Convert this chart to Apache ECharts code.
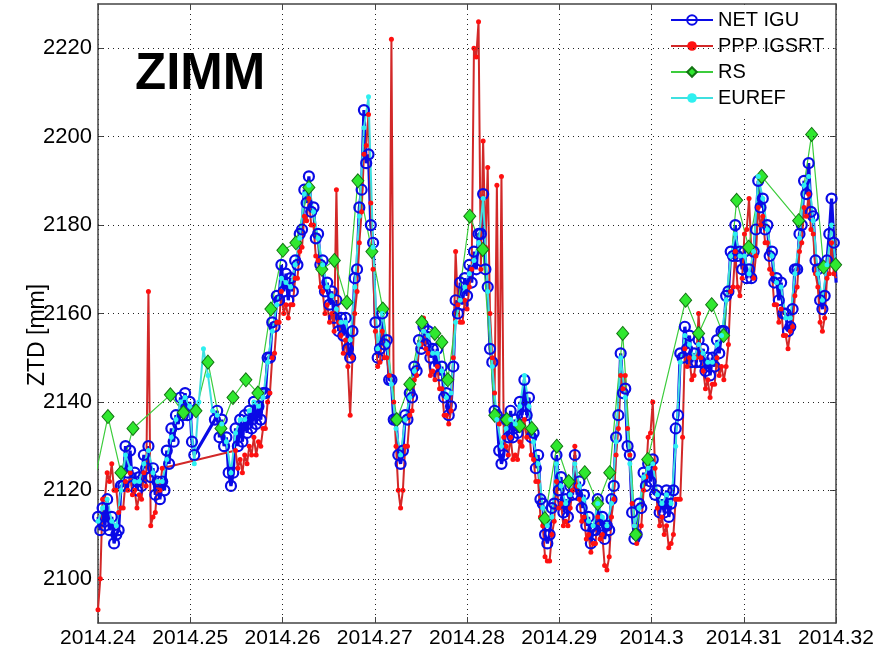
<!DOCTYPE html>
<html>
<head>
<meta charset="utf-8">
<title>ZIMM ZTD</title>
<script src="https://cdn.jsdelivr.net/npm/echarts@6/dist/echarts.min.js"></script>
<style>
  html, body { margin: 0; padding: 0; background: #fff; }
  #chart { width: 877px; height: 658px; }
</style>
</head>
<body>
<div id="chart"></div>
<script>
// sampling of the traces: NET IGU and PPP IGSRT every STEP/2, EUREF every STEP
const T0 = 2014.24
const STEP = 0.000497

// NET IGU (blue circles), half-step samples
const netIgu = [
  2114, 2111, 2116, 2112, 2118, 2111, 2114, 2108, 2110, 2111,
  2121, 2121, 2130, 2124, 2129, 2121, 2124, 2120, 2123, 2121,
  2128, 2125, 2130, 2123, 2125, 2119, 2122, 2118, 2122, 2120,
  2129, 2126, 2134, 2131, 2137, 2135, 2141, 2137, 2142, 2137,
  2140, 2131, 2128, null, null, null, null, null, null, null,
  null, 2136, 2138, 2132, 2136, 2130, 2132, 2124, 2121, 2124,
  2134, 2130, 2136, 2131, 2137, 2133, 2138, 2134, 2140, 2135,
  2139, 2136, 2142, 2142, 2150, 2150, 2158, 2157, 2164, 2163,
  2171, 2165, 2169, 2163, 2168, 2165, 2172, 2171, 2178, 2179,
  2188, 2185, 2191, 2183, 2184, 2177, 2178, 2171, 2172, 2165,
  2167, 2162, 2165, 2159, 2163, 2156, 2159, 2155, 2159, 2152,
  2150, 2156, 2168, 2170, 2184, 2188, 2206, 2194, 2196, 2180,
  2176, 2158, 2150, 2152, 2160, 2153, 2154, 2145, 2145, 2136,
  2136, 2128, 2126, 2129, 2137, 2136, 2142, 2141, 2148, 2147,
  2154, 2152, 2157, 2153, 2156, 2150, 2152, 2148, 2152, 2146,
  2148, 2141, 2142, 2137, 2139, 2148, 2163, 2160, 2167, 2162,
  2168, 2164, 2171, 2167, 2174, 2170, 2178, 2178, 2187, 2170,
  2166, 2152, 2149, 2138, 2137, 2129, 2126, 2128, 2136, 2132,
  2138, 2132, 2136, 2133, 2140, 2137, 2145, 2137, 2141, 2132,
  2133, 2125, 2128, 2118, 2117, 2110, 2108, 2110, 2116, 2117,
  2128, 2120, 2123, 2115, 2118, 2114, 2121, 2119, 2128, 2119,
  2122, 2116, 2119, 2112, 2114, 2108, 2111, 2111, 2118, 2112,
  2114, 2109, 2112, 2111, 2118, 2121, 2132, 2137, 2151, 2142,
  2143, 2130, 2128, 2115, 2109, 2110, 2117, 2116, 2124, 2121,
  2126, 2122, 2127, 2119, 2120, 2115, 2118, 2115, 2120, 2114,
  2117, 2120, 2134, 2137, 2151, 2150, 2157, 2152, 2155, 2149,
  2151, 2149, 2154, 2149, 2152, 2147, 2150, 2146, 2150, 2148,
  2154, 2151, 2156, 2156, 2164, 2165, 2174, 2173, 2180, 2173,
  2174, 2170, 2174, 2168, 2170, 2168, 2174, 2179, 2190, 2184,
  2186, 2179, 2180, 2173, 2174, 2167, 2168, 2163, 2167, 2160,
  2160, 2156, 2157, 2161, 2170, 2170, 2178, 2180, 2190, 2187,
  2194, 2183, 2182, 2172, 2170, 2163, 2161, 2164, 2172, 2178,
  2186, 2176, 2167
]

// PPP IGSRT (red dots), half-step samples
const pppIgsrt = [
  2093, 2100, 2118, 2118, 2124, 2122, 2126, 2120, 2120, 2115,
  2116, 2116, 2122, 2120, 2124, 2119, 2120, 2116, 2119, 2118,
  2124, 2121, 2165, 2112, 2114, 2115, 2122, 2120, 2125, null,
  null, null, null, null, null, null, null, null, null, null,
  null, null, null, null, null, null, null, null, null, null,
  null, null, null, null, null, null, null, null, null, null,
  2129, 2125, 2127, 2124, 2128, 2126, 2130, 2128, 2132, 2128,
  2131, 2130, 2134, 2134, 2140, 2142, 2150, 2151, 2158, 2158,
  2165, 2160, 2162, 2159, 2162, 2162, 2168, 2168, 2174, 2175,
  2182, 2181, 2186, 2180, 2180, 2173, 2172, 2166, 2165, 2160,
  2162, 2158, 2160, 2156, 2188, 2158, 2155, 2151, 2154, 2148,
  2137, 2150, 2160, 2165, 2176, 2183, 2196, 2198, 2205, 2185,
  2170, 2156, 2148, 2149, 2156, 2150, 2150, 2146, 2222, 2140,
  2130, 2120, 2116, 2120, 2130, 2130, 2137, 2138, 2145, 2146,
  2153, 2153, 2159, 2152, 2151, 2146, 2147, 2145, 2148, 2143,
  2143, 2137, 2137, 2135, 2138, 2150, 2174, 2162, 2158, 2158,
  2163, 2161, 2166, 2170, 2220, 2218, 2226, 2170, 2199, 2175,
  2193, 2160, 2150, 2142, 2189, 2135, 2191, 2132, 2130, 2128,
  2132, 2127, 2128, 2127, 2131, 2130, 2136, 2132, 2134, 2128,
  2127, 2122, 2122, 2114, 2112, 2105, 2104, 2104, 2110, 2113,
  2122, 2116, 2117, 2112, 2113, 2112, 2116, 2120, 2130, 2121,
  2118, 2113, 2114, 2109, 2110, 2106, 2108, 2108, 2114, 2109,
  2110, 2103, 2102, 2105, 2114, 2118, 2128, 2134, 2146, 2143,
  2146, 2134, 2128, 2117, 2112, 2108, 2110, 2112, 2120, 2123,
  2132, 2133, 2140, 2125, 2116, 2112, 2114, 2110, 2112, 2107,
  2108, 2110, 2118, 2118, 2118, 2132, 2152, 2148, 2150, 2145,
  2146, 2150, 2160, 2150, 2147, 2143, 2145, 2141, 2144, 2144,
  2150, 2146, 2148, 2145, 2148, 2153, 2165, 2166, 2174, 2166,
  2164, 2168, 2178, 2179, 2186, 2174, 2168, 2173, 2184, 2180,
  2182, 2176, 2176, 2170, 2169, 2162, 2162, 2158, 2161, 2155,
  2155, 2152, 2156, 2157, 2164, 2166, 2174, 2176, 2184, 2182,
  2187, 2179, 2178, 2169, 2166, 2158, 2156, 2159, 2168, 2169,
  2176, 2169, 2168
]

// EUREF (cyan dots)
const euref = [
  2113, 2116, 2118, 2113, 2112, 2120, 2128, 2125, 2122, 2122,
  2126, 2129, 2124, 2122, 2122, 2127, 2132, 2136, 2140, 2141,
  2139, 2126, 2140, 2152, 2146, 2138, 2137, 2135, 2131, 2124,
  2133, 2136, 2136, 2138, 2140, 2139, 2141, 2149, 2156, 2162,
  2168, 2167, 2166, 2171, 2177, 2187, 2189, 2183, 2177, 2171,
  2166, 2164, 2161, 2158, 2158, 2154, 2166, 2182, 2202, 2209,
  2175, 2152, 2160, 2153, 2144, 2134, 2128, 2136, 2141, 2147,
  2153, 2156, 2155, 2151, 2151, 2147, 2141, 2142, 2158, 2163,
  2166, 2169, 2172, 2176, 2186, 2165, 2148, 2136, 2130, 2134,
  2136, 2135, 2139, 2146, 2139, 2131, 2126, 2116, 2112, 2114,
  2126, 2121, 2117, 2119, 2126, 2121, 2118, 2113, 2112, 2117,
  2114, 2112, 2117, 2131, 2150, 2141, 2126, 2112, 2116, 2123,
  2125, 2126, 2119, 2117, 2119, 2117, 2130, 2149, 2155, 2153,
  2150, 2153, 2151, 2149, 2149, 2153, 2155, 2163, 2173, 2178,
  2173, 2173, 2169, 2174, 2191, 2186, 2179, 2173, 2167, 2166,
  2159, 2159, 2169, 2177, 2189, 2191, 2181, 2169, 2163, 2171,
  2180, 2170
]

// RS (green diamonds), twice a day
const rsTime = [
  2014.23980, 2014.24108, 2014.24249, 2014.24379, 2014.24785, 2014.24926,
  2014.25062, 2014.25192, 2014.25333, 2014.25463, 2014.25603, 2014.25733,
  2014.25874, 2014.26004, 2014.26145, 2014.26286, 2014.26427, 2014.26562,
  2014.26698, 2014.26817, 2014.26969, 2014.27088, 2014.27239, 2014.27380,
  2014.27510, 2014.27651, 2014.27727, 2014.27792, 2014.28030, 2014.28171,
  2014.28301, 2014.28431, 2014.28572, 2014.28702, 2014.28843, 2014.28973,
  2014.29103, 2014.29276, 2014.29417, 2014.29547, 2014.29688, 2014.29829,
  2014.29959, 2014.30370, 2014.30511, 2014.30652, 2014.30782, 2014.30923,
  2014.31053, 2014.31194, 2014.31595, 2014.31736, 2014.31866, 2014.31996
]
const rsValue = [
  2124, 2136.7, 2124, 2134, 2141.6, 2137.6,
  2138, 2149, 2134, 2141, 2145, 2142,
  2161, 2174.3, 2176, 2188.5, 2170, 2172,
  2162.5, 2190, 2174, 2161, 2136, 2144,
  2158, 2155.5, 2153.5, 2145, 2182, 2174.5,
  2137, 2136, 2134.6, 2134, 2113.6, 2130,
  2122, 2124, 2117, 2124, 2155.5, 2110,
  2127, 2163, 2155.5, 2162, 2155, 2185.6,
  2175, 2191, 2181, 2200.5, 2170.5, 2171
]

const xTicks = [2014.24, 2014.25, 2014.26, 2014.27, 2014.28, 2014.29, 2014.3, 2014.31, 2014.32]
const yTicks = [2100, 2120, 2140, 2160, 2180, 2200, 2220]

const FONT = 'Liberation Sans, Arial, sans-serif'

const chart = echarts.init(document.getElementById('chart'))

const stepped = (arr, dt) => arr.map((v, k) => [T0 + k * dt, v])

const dotted = { color: '#222', width: 1, type: [1, 4] }
const axisLine = { show: true, lineStyle: { color: '#444', width: 1.5 } }
const tickIn = { show: true, inside: true, length: 6, lineStyle: { color: '#444' } }

chart.setOption({
  animation: false,
  backgroundColor: '#fff',
  grid: { left: 98, right: 41, top: 4, bottom: 35 },
  legend: {
    orient: 'vertical',
    left: 660,
    top: 5,
    padding: [5, 10, 10, 10],
    backgroundColor: '#fff',
    itemWidth: 42,
    itemHeight: 12,
    itemGap: 6,
    data: ['NET IGU', 'PPP IGSRT', 'RS', 'EUREF'],
    textStyle: { fontSize: 20, color: '#000', fontFamily: FONT }
  },
  xAxis: [
    {
      type: 'value',
      min: xTicks[0],
      max: xTicks[xTicks.length - 1],
      interval: 0.01,
      axisLine: axisLine,
      axisTick: tickIn,
      splitLine: { show: true, lineStyle: dotted },
      axisLabel: {
        color: '#000',
        fontSize: 21,
        fontFamily: FONT,
        margin: 5,
        showMinLabel: true,
        showMaxLabel: true,
        formatter: (v) => String(+v.toFixed(2))
      }
    },
    {
      type: 'value',
      position: 'top',
      min: xTicks[0],
      max: xTicks[xTicks.length - 1],
      interval: 0.01,
      axisLine: axisLine,
      axisTick: tickIn,
      splitLine: { show: false },
      axisLabel: { show: false }
    }
  ],
  yAxis: [
    {
      type: 'value',
      min: 2090,
      max: 2230,
      interval: 10,
      axisLine: axisLine,
      axisTick: Object.assign({ customValues: yTicks }, tickIn),
      splitLine: { show: false },
      axisLabel: {
        customValues: yTicks,
        color: '#000',
        fontSize: 22,
        fontFamily: FONT,
        margin: 6,
        formatter: (v) => (v % 20 === 0 ? String(v) : '')
      }
    },
    {
      type: 'value',
      position: 'right',
      min: 2090,
      max: 2230,
      interval: 10,
      axisLine: axisLine,
      axisTick: Object.assign({ customValues: yTicks }, tickIn),
      splitLine: { show: false },
      axisLabel: { show: false }
    }
  ],
  graphic: [
    {
      type: 'text',
      left: 135,
      top: 49,
      style: { text: 'ZIMM', fill: '#000', font: 'bold 51px ' + FONT }
    },
    {
      type: 'text',
      x: 38,
      y: 335,
      rotation: Math.PI / 2,
      style: {
        text: 'ZTD [mm]',
        fill: '#000',
        font: '23px ' + FONT,
        align: 'center',
        verticalAlign: 'middle'
      }
    }
  ],
  series: [
    {
      // horizontal dotted grid lines
      name: 'grid',
      type: 'line',
      data: [],
      silent: true,
      markLine: {
        silent: true,
        symbol: ['none', 'none'],
        label: { show: false },
        lineStyle: dotted,
        data: yTicks.map((v) => ({ yAxis: v }))
      }
    },
    {
      name: 'NET IGU',
      type: 'line',
      data: stepped(netIgu, STEP / 2),
      connectNulls: true,
      showAllSymbol: true,
      symbol: 'circle',
      symbolSize: 10,
      itemStyle: { color: 'rgba(255,255,255,0)', borderColor: '#0a0ae6', borderWidth: 2.2 },
      lineStyle: { color: '#0a0ae6', width: 3.2 }
    },
    {
      name: 'PPP IGSRT',
      type: 'line',
      data: stepped(pppIgsrt, STEP / 2),
      connectNulls: true,
      showAllSymbol: true,
      symbol: 'circle',
      symbolSize: 5,
      itemStyle: { color: '#ff1010' },
      lineStyle: { color: '#d22828', width: 2 }
    },
    {
      name: 'RS',
      type: 'line',
      data: rsTime.map((t, k) => [t, rsValue[k]]),
      symbol: 'diamond',
      symbolSize: [12, 14],
      itemStyle: { color: '#2fe82f', borderColor: '#137313', borderWidth: 1 },
      lineStyle: { color: '#3ccc3c', width: 1.2 }
    },
    {
      name: 'EUREF',
      type: 'line',
      data: stepped(euref, STEP),
      showAllSymbol: true,
      symbol: 'circle',
      symbolSize: 5,
      itemStyle: { color: '#2ef0f0' },
      lineStyle: { color: '#3fe0e0', width: 2 }
    }
  ]
})
</script>
</body>
</html>
